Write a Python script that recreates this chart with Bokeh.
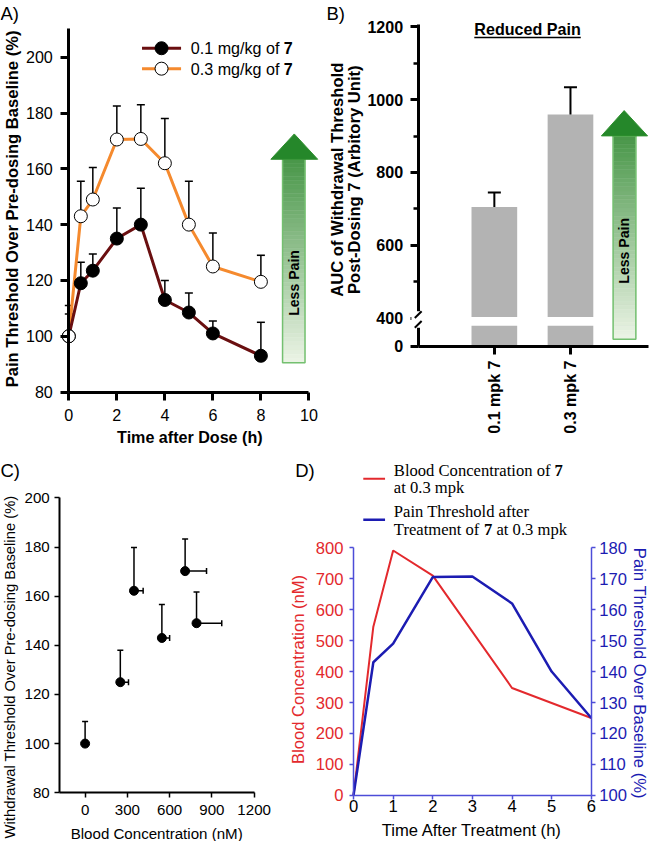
import numpy as np
from bokeh.plotting import figure
from bokeh.models import Range1d, LinearAxis, FixedTicker, Label
from bokeh.layouts import column, row
from bokeh.embed import file_html
from bokeh.resources import INLINE

S = 0.975
SANS = "Liberation Sans"
SERIF = "Liberation Serif"
MAROON = "#6a0f10"
ORANGE = "#f58a2e"
RED = "#e3292d"
BLUE = "#1c1cb2"
AXBLUE = "#4d4dd8"
GRAY = "#b3b3b3"

# ---------------- data ----------------
# Panel A
a_time = [0, 0.5, 1, 2, 3, 4, 5, 6, 8]
a_low = [100, 119, 123.5, 135, 140, 113, 108.5, 101, 93]
a_low_err = [108, 126.5, 129.5, 146, 153, 120, 115.5, 105.5, 105]
a_high = [100, 143, 149, 170.5, 170.7, 162, 140, 125, 119.5]
a_high_err = [111, 155.5, 160.5, 182.5, 183, 178, 155.5, 137, 129]
a_xticks = [0, 2, 4, 6, 8, 10]
a_yticks = [80, 100, 120, 140, 160, 180, 200]
a_legend = ["0.1 mg/kg of", "0.3 mg/kg of"]

# Panel B
b_pos = [1, 2]
b_labels = ["0.1 mpk 7", "0.3 mpk 7"]
b_auc = [705, 959]
b_auc_err = [745, 1034]
b_tick_vals = [0, 400, 600, 800, 1000, 1200]
b_minor = [500, 700, 900, 1100]

# Panel C
c_conc = [0, 250, 347, 545, 710, 791]
c_conc_err = [0, 308, 412, 600, 862, 970]
c_pain = [100, 125, 162.2, 143, 170.2, 149]
c_pain_err = [109, 138, 179.8, 156.6, 183.3, 161.7]
c_xticks = [0, 300, 600, 900, 1200]
c_yticks = [80, 100, 120, 140, 160, 180, 200]

# Panel D
d_time_conc = [0, 0.5, 1, 2, 4, 6]
d_conc = [0, 545, 791, 710, 347, 250]
d_time_pain = [0, 0.5, 1, 2, 3, 4, 5, 6]
d_pain = [100, 143, 149, 170.5, 170.7, 162, 140, 125]
d_xticks = [0, 1, 2, 3, 4, 5, 6]
d_lticks = [0, 100, 200, 300, 400, 500, 600, 700, 800]
d_rticks = [100, 110, 120, 130, 140, 150, 160, 170, 180]


def fs(v):
    return f"{v * S:.1f}px"


def make_fig(W, H, xr, yr):
    p = figure(width=round(W * S), height=round(H * S),
               x_range=Range1d(*xr), y_range=Range1d(*yr),
               min_border=0, min_border_left=0, min_border_right=0,
               min_border_top=0, min_border_bottom=0,
               output_backend="svg", toolbar_location=None)
    p.outline_line_color = None
    p.xgrid.visible = False
    p.ygrid.visible = False
    return p


def style_axis(ax, size, bold=False, lw=3.0, out=8, tw=3.0, color="black",
               label_color="black", standoff=5):
    ax.axis_line_width = lw
    ax.axis_line_color = color
    ax.major_tick_line_width = tw
    ax.major_tick_line_color = color
    ax.major_tick_out = out
    ax.major_tick_in = 0
    ax.minor_tick_line_color = None
    ax.major_label_text_font = SANS
    ax.major_label_text_font_size = fs(size)
    ax.major_label_text_font_style = "bold" if bold else "normal"
    ax.major_label_text_color = label_color
    ax.major_label_standoff = standoff


def add_label(p, x, y, text, size, font=SANS, style="normal", color="black",
              align="left", baseline="middle", angle=0.0, x_offset=0, y_range_name="default"):
    p.add_layout(Label(x=x, y=y, text=text, text_font=font, text_font_size=fs(size),
                       text_font_style=style, text_color=color,
                       text_align=align, text_baseline=baseline,
                       angle=angle, x_offset=x_offset, y_range_name=y_range_name))


def gradient_arrow(p, tip_x, head_l, head_r, shaft_l, shaft_r, tip_y, head_y, bot_y,
                   label, label_y, n=48):
    top = np.array([72, 150, 72])
    bot = np.array([236, 244, 230])
    edges = np.linspace(head_y, bot_y, n + 1)
    cols = []
    for i in range(n):
        t = (i + 0.5) / n
        c = top * (1 - t) + bot * t
        cols.append("#%02x%02x%02x" % tuple(int(round(v)) for v in c))
    p.quad(left=shaft_l, right=shaft_r, top=edges[:-1], bottom=edges[1:],
           fill_color=cols, line_color=cols, line_width=0.6)
    p.quad(left=[shaft_l], right=[shaft_r], top=[head_y], bottom=[bot_y],
           fill_color=None, line_color="#74c070", line_width=1.5)
    p.patch([head_l, tip_x, head_r], [head_y, tip_y, head_y],
            fill_color="#25872a", line_color="#2f902f", line_width=1)
    add_label(p, (shaft_l + shaft_r) / 2, label_y, label, 14.5, style="bold",
              align="center", angle=np.pi / 2)


# ================= Panel A =================
A_PH = 24.6     # px per hour
A_PU = 2.865    # px per % unit
ax_ = lambda px: (px - 70) / A_PH
ay_ = lambda py: 80 + (402 - py) / A_PU
pa = make_fig(333, 462, (ax_(0), ax_(333)), (ay_(462), ay_(0)))
xa = pa.xaxis[0]
ya = pa.yaxis[0]
xa.ticker = FixedTicker(ticks=a_xticks)
ya.ticker = FixedTicker(ticks=a_yticks)
xa.fixed_location = a_yticks[0]
xa.bounds = (a_xticks[0], a_xticks[-1])
ya.fixed_location = a_xticks[0]
ya.bounds = (a_yticks[0], ay_(29))
style_axis(xa, 16.5, standoff=9)
style_axis(ya, 16.5, standoff=8)

pa.segment(x0=a_time, y0=a_high, x1=a_time, y1=a_high_err, line_color="black", line_width=1.5)
pa.scatter(x=a_time, y=a_high_err, marker="dash", size=8, line_color="black", line_width=1.5)
pa.segment(x0=a_time, y0=a_low, x1=a_time, y1=a_low_err, line_color="black", line_width=1.5)
pa.scatter(x=a_time, y=a_low_err, marker="dash", size=8, line_color="black", line_width=1.5)
pa.line(a_time, a_high, line_color=ORANGE, line_width=3)
pa.line(a_time, a_low, line_color=MAROON, line_width=3)
pa.scatter(a_time, a_low, size=13, fill_color="black", line_color="black")
pa.scatter(a_time, a_high, size=13, fill_color="white", line_color="black", line_width=1)

# legend A
for yy, col, fill, txt in zip([ay_(49), ay_(70)], [MAROON, ORANGE], ["black", "white"], a_legend):
    pa.segment(x0=[ax_(145)], y0=[yy], x1=[ax_(185)], y1=[yy], line_color=col, line_width=3)
    pa.scatter([ax_(165)], [yy], size=13, fill_color=fill, line_color="black")
    add_label(pa, ax_(195), yy, txt, 16.5)
    add_label(pa, ax_(195), yy, "7", 16.5, style="bold", x_offset=5.781 * 16.5 * S)

gradient_arrow(pa, ax_(301), ax_(277), ax_(325), ax_(289), ax_(312),
               ay_(137), ay_(163), ay_(372), "Less Pain", ay_(290))

add_label(pa, ax_(194), ay_(448), "Time after Dose (h)", 16.5, style="bold", align="center")
add_label(pa, ax_(12), ay_(214), "Pain Threshold Over Pre-dosing Baseline (%)", 17,
          style="bold", align="center", angle=np.pi / 2)
add_label(pa, ax_(0), ay_(13), "A)", 19)

# ================= Panel B =================
B_PX = 78.0            # px per category step
B_UP = 200 / 74.75     # units per px
bx = lambda px: 1 + (px - 173) / B_PX
by = lambda py: 1200 - (py - 27) * B_UP
ZERO_POS = 322         # where the broken axis shows "0"
pb = make_fig(333, 462, (bx(0), bx(333)), (by(462), by(0)))
xb = pb.xaxis[0]
yb = pb.yaxis[0]
b_tick_pos = [ZERO_POS if v == 0 else v for v in b_tick_vals]
yb.ticker = FixedTicker(ticks=b_tick_pos, minor_ticks=b_minor)
yb.major_label_overrides = {pos: str(v) for pos, v in zip(b_tick_pos, b_tick_vals)}
yb.fixed_location = 0
yb.bounds = (ZERO_POS, by(25))
style_axis(yb, 16.5, bold=True, standoff=7)
yb.minor_tick_line_color = "black"
yb.minor_tick_line_width = 2.5
yb.minor_tick_out = 5
yb.minor_tick_in = 0
xb.ticker = FixedTicker(ticks=b_pos)
xb.major_label_overrides = {pos: lab for pos, lab in zip(b_pos, b_labels)}
xb.major_label_orientation = np.pi / 2
xb.fixed_location = ZERO_POS
xb.bounds = (0, bx(331))
style_axis(xb, 16.5, bold=True, standoff=6)

BREAK_LO, BREAK_HI = by(334), by(325)
pb.vbar(x=b_pos, width=0.6, bottom=ZERO_POS, top=BREAK_LO, fill_color=GRAY, line_color=None)
pb.vbar(x=b_pos, width=0.6, bottom=BREAK_HI, top=b_auc, fill_color=GRAY, line_color=None)
pb.segment(x0=b_pos, y0=b_auc, x1=b_pos, y1=b_auc_err, line_color="black", line_width=2)
pb.scatter(x=b_pos, y=b_auc_err, marker="dash", size=13, line_color="black", line_width=2)

# axis break marks
d3 = 3.5 / B_PX
gap = pb.quad(left=[-2 * d3], right=[2 * d3], bottom=[by(336)], top=[by(319)],
              fill_color="white", line_color=None)
gap.level = "overlay"
sl = pb.segment(x0=[-d3, -d3], y0=[by(326), by(336)], x1=[d3, d3], y1=[by(319), by(329)],
                line_color="black", line_width=2)
sl.level = "overlay"

add_label(pb, bx(207), by(29), "Reduced Pain", 16.5, style="bold", align="center")
half = 6.613 * 16.5 / 2 / B_PX
pb.segment(x0=[bx(207) - half], y0=[by(38)], x1=[bx(207) + half], y1=[by(38)],
           line_color="black", line_width=1.5)

gradient_arrow(pb, bx(306), bx(282.7), bx(330), bx(294.7), bx(318),
               by(113), by(139), by(347.7), "Less Pain", by(257))

add_label(pb, bx(12), by(184), "AUC of Withdrawal Threshold", 17,
          style="bold", align="center", angle=np.pi / 2)
add_label(pb, bx(30), by(184), "Post-Dosing 7 (Arbitory Unit)", 17,
          style="bold", align="center", angle=np.pi / 2)
add_label(pb, bx(1), by(13), "B)", 19)

# ================= Panel C =================
C_PX = 43.3 / 300
C_PU = 50.4 / 20
cx = lambda px: c_xticks[0] - 180 + (px - 60.7) / C_PX
cy = lambda py: 80 + (351 - py) / C_PU
pc = make_fig(292, 401, (cx(0), cx(292)), (cy(401), cy(0)))
xc = pc.xaxis[0]
yc = pc.yaxis[0]
xc.ticker = FixedTicker(ticks=c_xticks)
yc.ticker = FixedTicker(ticks=c_yticks)
xc.fixed_location = c_yticks[0]
xc.bounds = (cx(60.7), c_xticks[-1])
yc.fixed_location = cx(60.7)
yc.bounds = (c_yticks[0], c_yticks[-1])
style_axis(xc, 15.5, lw=2, out=5, tw=1.5, standoff=7)
style_axis(yc, 15.5, lw=2, out=5, tw=1.5, standoff=5)

pc.segment(x0=c_conc, y0=c_pain, x1=c_conc, y1=c_pain_err, line_color="black", line_width=1.5)
pc.scatter(x=c_conc, y=c_pain_err, marker="dash", size=6, line_color="black", line_width=1.5)
hx = [(c, e, y) for c, e, y in zip(c_conc, c_conc_err, c_pain) if e > c]
pc.segment(x0=[h[0] for h in hx], y0=[h[2] for h in hx], x1=[h[1] for h in hx],
           y1=[h[2] for h in hx], line_color="black", line_width=1.5)
pc.scatter(x=[h[1] for h in hx], y=[h[2] for h in hx], marker="dash", angle=np.pi / 2,
           size=6, line_color="black", line_width=1.5)
pc.scatter(c_conc, c_pain, size=9, fill_color="black", line_color="black")
add_label(pc, cx(160), cy(393), "Blood Concentration (nM)", 15.5, align="center")
add_label(pc, cx(10), cy(222), "Withdrawal Threshold Over Pre-dosing Baseline (%)", 15.2,
          align="center", angle=np.pi / 2)
add_label(pc, cx(0), cy(20), "C)", 19)

# ================= Panel D =================
D_PH = 40.6     # px per hour
D_PL = 0.3175   # px per nM
D_PR = 3.175    # px per % unit
dx = lambda px: (px - 69.7) / D_PH
dy = lambda py: (353.7 - py) / D_PL
dyr = lambda py: 100 + (353.7 - py) / D_PR
pd_ = make_fig(374, 401, (dx(0), dx(374)), (dy(401), dy(0)))
pd_.extra_y_ranges = {"right": Range1d(dyr(401), dyr(0))}
ax_r = LinearAxis(y_range_name="right")
pd_.add_layout(ax_r, "right")
xd = pd_.xaxis[0]
yd = pd_.yaxis[0]
xd.ticker = FixedTicker(ticks=d_xticks)
yd.ticker = FixedTicker(ticks=d_lticks)
ax_r.ticker = FixedTicker(ticks=d_rticks)
xd.fixed_location = d_lticks[0]
xd.bounds = (d_xticks[0], d_xticks[-1])
yd.fixed_location = d_xticks[0]
yd.bounds = (d_lticks[0], d_lticks[-1])
ax_r.fixed_location = d_xticks[-1]
ax_r.bounds = (d_rticks[0], d_rticks[-1])
style_axis(xd, 17, lw=1.5, out=4, tw=1.5, color=AXBLUE, standoff=1)
style_axis(yd, 17, lw=1.5, out=4, tw=1.5, color=AXBLUE, label_color=RED, standoff=6)
style_axis(ax_r, 17, lw=1.5, out=4, tw=1.5, color=AXBLUE, label_color=BLUE, standoff=4)

pd_.line(d_time_conc, d_conc, line_color=RED, line_width=2)
pd_.line(d_time_pain, d_pain, y_range_name="right", line_color=BLUE, line_width=2.5)

pd_.segment(x0=[dx(79.7)], y0=[dy(29)], x1=[dx(102)], y1=[dy(29)], line_color=RED, line_width=2)
pd_.segment(x0=[dx(79.7)], y0=[dy(71)], x1=[dx(102)], y1=[dy(71)], line_color=BLUE, line_width=2.5)
LF = 17
add_label(pd_, dx(111), dy(20), "Blood Concentration of", LF, font=SERIF)
add_label(pd_, dx(111), dy(20), "7", LF, font=SERIF, style="bold", x_offset=9.694 * LF * S)
add_label(pd_, dx(111), dy(38), "at 0.3 mpk", LF, font=SERIF)
add_label(pd_, dx(111), dy(63), "Pain Threshold after", LF, font=SERIF)
add_label(pd_, dx(111), dy(81), "Treatment of", LF, font=SERIF)
add_label(pd_, dx(111), dy(81), "7", LF, font=SERIF, style="bold", x_offset=5.442 * LF * S)
add_label(pd_, dx(111), dy(81), "at 0.3 mpk", LF, font=SERIF, x_offset=(5.442 + 0.75) * LF * S)

add_label(pd_, dx(191), dy(390), "Time After Treatment (h)", 17, align="center")
add_label(pd_, dx(13), dy(224.5), "Blood Concentration (nM)", 17, color=RED,
          align="center", angle=np.pi / 2)
add_label(pd_, dx(363), dy(228.5), "Pain Threshold Over Baseline (%)", 17, color=BLUE,
          align="center", angle=-np.pi / 2)
add_label(pd_, dx(10), dy(20), "D)", 19)

layout = column(row(pa, pb), row(pc, pd_))
open("out.html", "w").write(file_html(layout, INLINE))
